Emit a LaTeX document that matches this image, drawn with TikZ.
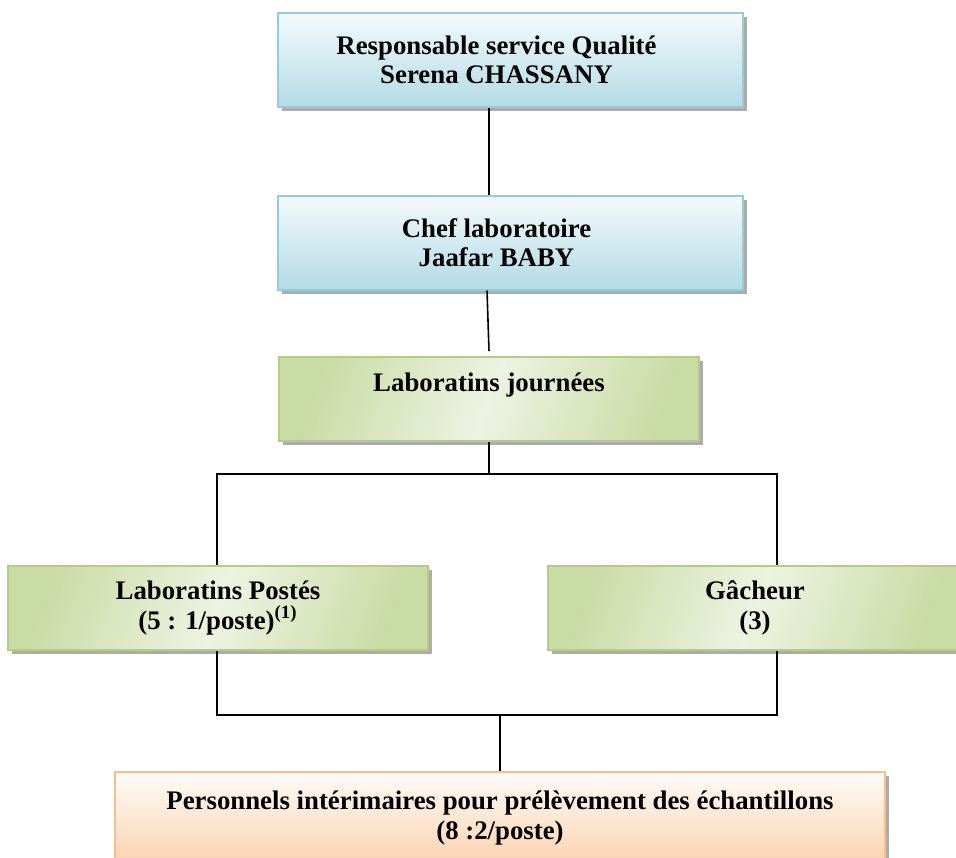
\documentclass[tikz,border=0pt]{standalone}
\usepackage{fontspec}
\setmainfont{Liberation Serif}
\usetikzlibrary{positioning}
\usetikzlibrary{calc}
\usetikzlibrary{shadows}

\definecolor{bluetop}{HTML}{F4FAFC}
\definecolor{bluebot}{HTML}{B3DBE6}
\definecolor{blueline}{HTML}{93CDDD}
\definecolor{greendark}{HTML}{CADCA6}
\definecolor{greenlight}{HTML}{EDF3E2}
\definecolor{greenline}{HTML}{B5CC88}
\definecolor{orangetop}{HTML}{FFFCF9}
\definecolor{orangebot}{HTML}{FBD2AF}
\definecolor{orangeline}{HTML}{F9BE8E}

% Padding after a line, to set the text a little left of centre
\newcommand{\padr}{\hspace*{14pt}}

\tikzset{
  box/.style={rectangle, line width=1pt, align=center,
    font=\bfseries\fontsize{13.4}{14.8}\selectfont,
    drop shadow={shadow xshift=2pt, shadow yshift=-2pt, fill=gray!65, opacity=1}},
  bluebox/.style={box, draw=blueline, top color=bluetop, bottom color=bluebot},
  greenbox/.style={box, draw=greenline, left color=greendark, right color=greendark,
    middle color=greenlight, shading angle=70},
  orangebox/.style={box, draw=orangeline, top color=orangetop, bottom color=orangebot},
  link/.style={draw=black, line width=0.8pt}
}

\begin{document}
\begin{tikzpicture}[x=0.5pt, y=-0.5pt]

        % Page frame
        \useasboundingbox (0,0) rectangle (956,857);

        % Box sizes
        \def\wide{232.5pt}
        \def\mid{210pt}
        \def\tall{47pt}
        \def\low{42pt}

        % Heads of service
        \node[bluebox, minimum width=\wide, minimum height=\tall] (resp) at (510.5,60)
          {Responsable service Qualité\padr\\Serena CHASSANY\padr};
        \node[bluebox, minimum width=\wide, minimum height=\tall] (chef) at (510.5,242.5)
          {Chef laboratoire\padr\\Jaafar BABY\padr};

        % Day staff
        \node[greenbox, minimum width=\mid, minimum height=\low, text depth=17pt] (jour) at (489,399)
          {Laboratins journées};

        % Shift staff
        \node[greenbox, minimum width=\mid, minimum height=\low] (poste) at (218,608)
          {Laboratins Postés\\(5 : 1/poste)\textsuperscript{(1)}};
        \node[greenbox, minimum width=207.5pt, minimum height=\low] (gach) at (755,608)
          {Gâcheur\\(3)};

        % Temporary staff
        \node[orangebox, minimum width=385pt, minimum height=46pt] (interim) at (500,818)
          {Personnels intérimaires pour prélèvement des échantillons\\(8 :2/poste)};

        % Junction points of the tree
        \coordinate (hl) at (217,474);
        \coordinate (hr) at (777,474);
        \coordinate (bl) at (217,715);
        \coordinate (br) at (777,715);

        % Vertical links between the heads
        \draw[link] (resp.south -| jour) -- (chef.north -| jour);
        \draw[link] ([xshift=-1pt]chef.south -| jour) -- ([yshift=2.5pt]jour.north);

        % Split to the shift staff
        \draw[link] (jour.south) -- (jour.south |- hl);
        \draw[link] (hl |- poste.north) -- (hl) -- (hr) -- (hr |- gach.north);

        % Join to the temporary staff
        \draw[link] (bl |- poste.south) -- (bl) -- (br) -- (br |- gach.south);
        \draw[link] (interim.north |- bl) -- (interim.north);

      \end{tikzpicture}
\end{document}
